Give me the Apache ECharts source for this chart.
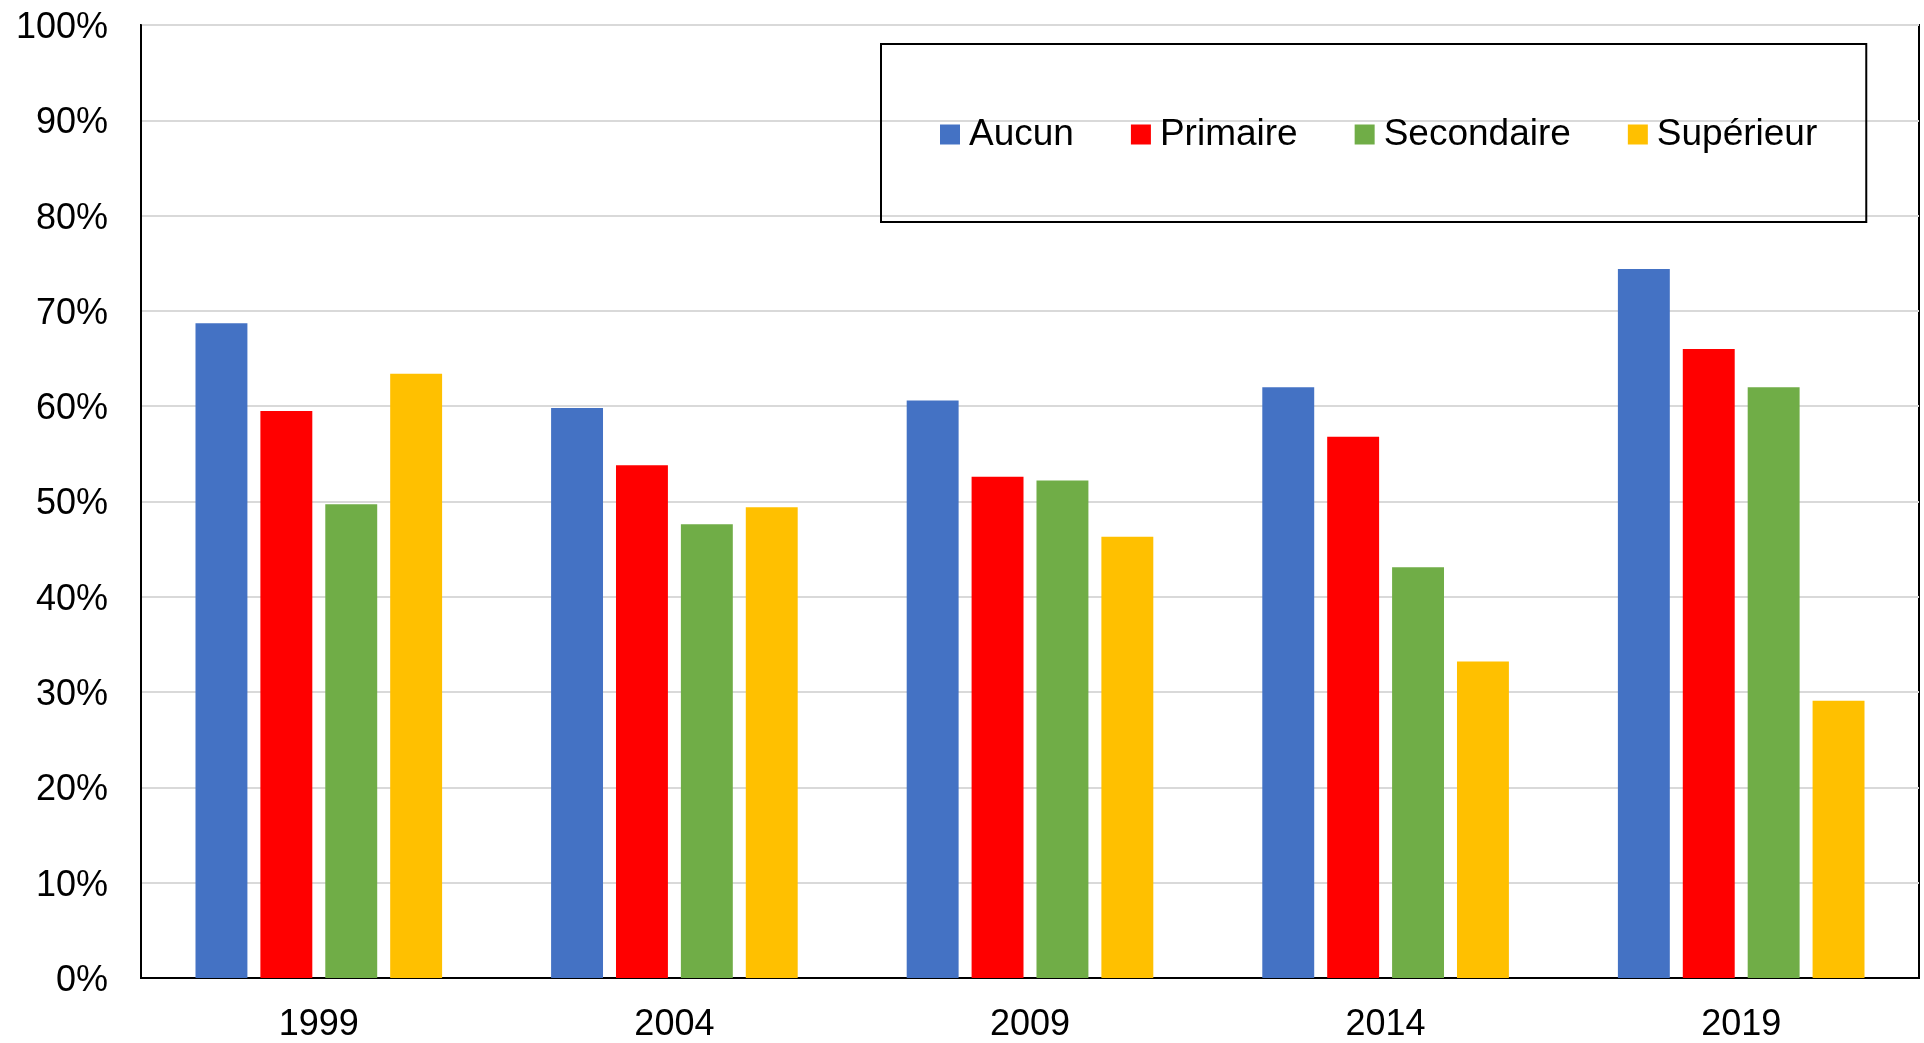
<!DOCTYPE html>
<html>
<head>
<meta charset="utf-8">
<script src="https://cdn.jsdelivr.net/npm/echarts@6/dist/echarts.min.js"></script>
<style>
    html, body { margin: 0; padding: 0; background: #fff; }
    #main { width: 1924px; height: 1043px; }
</style>
</head>
<body>
<div id="main"></div>
<script>
// données (en %)
const years = ['1999', '2004', '2009', '2014', '2019'];
const aucun = [68.7, 59.8, 60.6, 62.0, 74.4];
const primaire = [59.5, 53.8, 52.6, 56.8, 66.0];
const secondaire = [49.7, 47.6, 52.2, 43.1, 62.0];
const superieur = [63.4, 49.4, 46.3, 33.2, 29.1];

const font = 'Liberation Sans, Arial, sans-serif';

let myChart = echarts.init(document.getElementById('main'), null, { renderer: 'canvas' });

let mkBar = (name, data, color) => ({
    name: name,
    type: 'bar',
    data: data,
    barWidth: '14.6%',
    barGap: '25%',
    itemStyle: { color: color },
    emphasis: { disabled: true }
});

myChart.setOption({
    animation: false,
    textStyle: { fontFamily: font },
    grid: {
        left: 141, right: 5, top: 25, bottom: 64,
        show: true,
        borderColor: '#000',
        borderWidth: 2
    },
    legend: {
        left: 881, top: 44,
        padding: [72, 49, 69, 59],
        borderColor: '#000',
        borderWidth: 2,
        itemWidth: 20,
        itemHeight: 20,
        itemGap: 57,
        icon: 'rect',
        textStyle: { fontSize: 37, color: '#000', fontFamily: font, padding: [0, 0, 0, 4] },
        data: ['Aucun', 'Primaire', 'Secondaire', 'Supérieur']
    },
    xAxis: {
        type: 'category',
        data: years,
        axisLine: { lineStyle: { color: '#000', width: 2 } },
        axisTick: { show: false },
        axisLabel: { fontSize: 36, color: '#000', margin: 29, fontFamily: font }
    },
    yAxis: {
        type: 'value',
        min: 0, max: 100, interval: 10,
        axisLine: { show: true, lineStyle: { color: '#000', width: 2 } },
        axisTick: { show: false },
        axisLabel: { fontSize: 36, color: '#000', margin: 33, formatter: '{value}%', fontFamily: font, lineHeight: 40, verticalAlign: 'top', padding: [-17, 0, 0, 0] },
        splitLine: { lineStyle: { color: '#d9d9d9', width: 2 } }
    },
    series: [
        mkBar('Aucun', aucun, '#4472C4'),
        mkBar('Primaire', primaire, '#FF0000'),
        mkBar('Secondaire', secondaire, '#70AD47'),
        mkBar('Supérieur', superieur, '#FFC000')
    ]
});
</script>
</body>
</html>
